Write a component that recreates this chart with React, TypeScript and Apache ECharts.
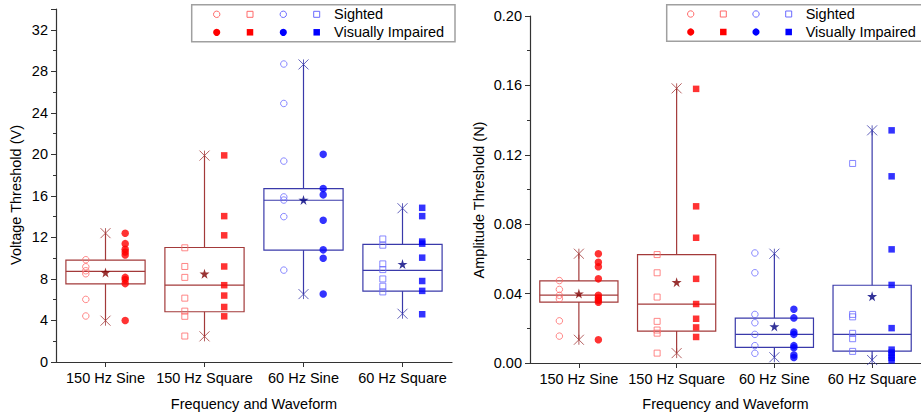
import React, { useEffect, useRef } from "react";
import * as echarts from "echarts";

const categories = ["150 Hz Sine", "150 Hz Square", "60 Hz Sine", "60 Hz Square"];

// Left chart: voltage threshold (V)
const voltTicks = { min: 0, max: 34, interval: 4 };
const voltSighted = [
  [9.85, 9.17, 8.79, 8.5, 6.03, 4.43],
  [11.0, 9.2, 8.15, 6.15, 4.9, 4.4, 2.5],
  [28.7, 24.9, 19.35, 15.9, 15.6, 14.0, 8.85],
  [11.85, 11.25, 9.45, 8.9, 8.0, 7.3, 6.75],
];
const voltVI = [
  [12.4, 11.4, 10.85, 10.6, 10.3, 8.15, 7.95, 7.55, 4.0],
  [19.9, 14.05, 12.2, 9.2, 7.4, 6.4, 5.3, 4.4],
  [20.0, 16.7, 16.1, 13.65, 10.8, 10.0, 6.55],
  [14.85, 14.05, 11.6, 11.4, 10.05, 7.8, 6.85, 4.6],
];
// [min, q1, median, q3, max]
const voltBox = [
  [3.98, 7.53, 8.72, 9.81, 12.41],
  [2.47, 4.84, 7.41, 11.03, 19.88],
  [6.54, 10.77, 15.58, 16.7, 28.66],
  [4.65, 6.83, 8.82, 11.32, 14.81],
];
const voltMean = [8.62, 8.5, 15.61, 9.43];

// Right chart: amplitude threshold (N)
const ampTicks = { min: 0, max: 0.2, interval: 0.04 };
const ampSighted = [
  [0.0475, 0.0424, 0.039, 0.037, 0.0243, 0.0155],
  [0.0625, 0.052, 0.038, 0.024, 0.019, 0.0172, 0.0057],
  [0.0634, 0.052, 0.028, 0.0232, 0.0165, 0.01, 0.0056],
  [0.115, 0.028, 0.0266, 0.0171, 0.014, 0.0067],
];
const ampVI = [
  [0.063, 0.058, 0.0555, 0.0485, 0.039, 0.0375, 0.036, 0.035, 0.0134],
  [0.158, 0.0903, 0.0722, 0.0485, 0.034, 0.0255, 0.0205, 0.015],
  [0.031, 0.026, 0.0178, 0.0165, 0.01, 0.0088, 0.0046, 0.0032],
  [0.1341, 0.1076, 0.0655, 0.045, 0.0201, 0.0077, 0.006, 0.0045, 0.003, 0.0015],
];
const ampBox = [
  [0.0134, 0.0351, 0.0391, 0.0473, 0.063],
  [0.0057, 0.0184, 0.0339, 0.0625, 0.1583],
  [0.0033, 0.009, 0.0165, 0.0259, 0.063],
  [0.0017, 0.0069, 0.0165, 0.0448, 0.1341],
];
const ampMean = [0.04, 0.0466, 0.0211, 0.0385];

const legendLabels = ["Sighted", "Visually Impaired"];

// styles
const FONT = "'Liberation Sans', Arial, sans-serif";
const FS = 14.5;
const boxColor = ["#a33a3a", "#a33a3a", "#3a3aaa", "#3a3aaa"];
const meanColor = ["#800000", "#800000", "#000080", "#000080"];
const sightedColor = ["#ff6a6a", "#ff6a6a", "#6a6aff", "#6a6aff"];
const viColor = ["#ff0000", "#ff0000", "#0000ff", "#0000ff"];
const shape = ["circle", "rect", "circle", "rect"];
const STAR = "path://M50,0L61,35L98,35L68,57L79,91L50,70L21,91L32,57L2,35L39,35Z";
const ASTER = "path://M0,0L10,10M10,0L0,10M5,0L5,10";

function buildSeries(
  gi: number,
  sighted: number[][],
  vi: number[][],
  box: number[][],
  mean: number[],
  offset: number
) {
  const series: any[] = [];
  series.push({
    type: "custom",
    xAxisIndex: gi,
    yAxisIndex: gi,
    silent: true,
    z: 1,
    encode: { x: 0, y: [1, 2, 3, 4, 5] },
    data: box.map((b, i) => [i, ...b]),
    renderItem: (params: any, api: any) => {
      const x = api.value(0);
      const idx = params.dataIndex;
      const col = boxColor[idx];
      const pMin = api.coord([x, api.value(1)]);
      const pQ1 = api.coord([x, api.value(2)]);
      const pMed = api.coord([x, api.value(3)]);
      const pQ3 = api.coord([x, api.value(4)]);
      const pMax = api.coord([x, api.value(5)]);
      const bw = api.size([1, 0])[0] * 0.8;
      const cx = pMed[0];
      const st = { stroke: col, lineWidth: 1.2, fill: "none" };
      return {
        type: "group",
        children: [
          { type: "line", shape: { x1: cx, y1: pMax[1], x2: cx, y2: pQ3[1] }, style: st },
          { type: "line", shape: { x1: cx, y1: pQ1[1], x2: cx, y2: pMin[1] }, style: st },
          {
            type: "rect",
            shape: { x: cx - bw / 2, y: pQ3[1], width: bw, height: pQ1[1] - pQ3[1] },
            style: st,
          },
          {
            type: "line",
            shape: { x1: cx - bw / 2, y1: pMed[1], x2: cx + bw / 2, y2: pMed[1] },
            style: st,
          },
        ],
      };
    },
  });
  categories.forEach((_, i) => {
    series.push({
      type: "scatter",
      xAxisIndex: gi,
      yAxisIndex: gi,
      silent: true,
      z: 3,
      symbol: shape[i],
      symbolSize: shape[i] === "circle" ? 6.5 : 6,
      symbolOffset: [-offset, 0],
      itemStyle: { color: "rgba(0,0,0,0)", borderColor: sightedColor[i], borderWidth: 1 },
      data: sighted[i].map((v) => [i, v]),
    });
    series.push({
      type: "scatter",
      xAxisIndex: gi,
      yAxisIndex: gi,
      silent: true,
      z: 3,
      symbol: shape[i],
      symbolSize: shape[i] === "circle" ? 7.5 : 6.5,
      symbolOffset: [offset, 0],
      itemStyle: { color: viColor[i] },
      data: vi[i].map((v) => [i, v]),
    });
  });
  series.push({
    type: "scatter",
    xAxisIndex: gi,
    yAxisIndex: gi,
    silent: true,
    z: 4,
    symbol: ASTER,
    symbolSize: 10,
    data: box.flatMap((b, i) => [
      { value: [i, b[0]], itemStyle: { color: "rgba(0,0,0,0)", borderColor: boxColor[i], borderWidth: 1 } },
      { value: [i, b[4]], itemStyle: { color: "rgba(0,0,0,0)", borderColor: boxColor[i], borderWidth: 1 } },
    ]),
  });
  series.push({
    type: "scatter",
    xAxisIndex: gi,
    yAxisIndex: gi,
    silent: true,
    z: 5,
    symbol: STAR,
    symbolSize: 10,
    data: mean.map((m, i) => ({ value: [i, m], itemStyle: { color: meanColor[i] } })),
  });
  return series;
}

function legendGraphic(x: number, y: number, w: number, h: number, mx: number[], tx: number, rows: number[]) {
  const els: any[] = [
    { type: "rect", shape: { x, y, width: w, height: h }, style: { fill: "#fff", stroke: "#a0a0a0", lineWidth: 1.5 }, z: 10 },
  ];
  const add = (i: number, row: number, filled: boolean) => {
    const cx = mx[i];
    const cy = rows[row];
    const col = filled ? viColor[i] : sightedColor[i];
    const style = filled ? { fill: col } : { fill: "none", stroke: col, lineWidth: 1 };
    if (shape[i] === "circle") {
      els.push({ type: "circle", shape: { cx, cy, r: filled ? 3.6 : 3.2 }, style, z: 11 });
    } else {
      const s = filled ? 6.5 : 6;
      els.push({ type: "rect", shape: { x: cx - s / 2, y: cy - s / 2, width: s, height: s }, style, z: 11 });
    }
  };
  categories.forEach((_, i) => {
    add(i, 0, false);
    add(i, 1, true);
  });
  legendLabels.forEach((t, r) => {
    els.push({
      type: "text",
      x: tx,
      y: rows[r],
      z: 11,
      style: { text: t, font: `${FS}px ${FONT}`, fill: "#000", textAlign: "left", textVerticalAlign: "middle" },
    });
  });
  return els;
}

function xAxisCfg(gi: number, nameGap: number) {
  return {
    type: "category",
    gridIndex: gi,
    data: categories,
    boundaryGap: true,
    name: "Frequency and Waveform",
    nameLocation: "middle",
    nameGap,
    nameTextStyle: { fontFamily: FONT, fontSize: FS, color: "#000" },
    axisLine: { show: true, lineStyle: { color: "#333", width: 1.2 } },
    axisTick: { show: true, alignWithLabel: true, length: 5, interval: 0, lineStyle: { color: "#333" } },
    axisLabel: { interval: 0, margin: 8, fontFamily: FONT, fontSize: FS, color: "#000" },
    splitLine: { show: false },
  };
}

function yAxisCfg(gi: number, t: { min: number; max: number; interval: number }, fmt: (v: number) => string) {
  return {
    type: "value",
    gridIndex: gi,
    min: t.min,
    max: t.max,
    interval: t.interval,
    axisLine: { show: true, lineStyle: { color: "#333", width: 1.2 } },
    axisTick: { show: true, length: 5, lineStyle: { color: "#333" } },
    minorTick: { show: true, splitNumber: 2, length: 3, lineStyle: { color: "#333" } },
    axisLabel: { margin: 8, fontFamily: FONT, fontSize: FS, color: "#000", showMaxLabel: gi === 1, formatter: fmt },
    splitLine: { show: false },
    minorSplitLine: { show: false },
  };
}

export default function App() {
  const ref = useRef<HTMLDivElement>(null);
  useEffect(() => {
    if (!ref.current) return;
    const chart = echarts.init(ref.current, undefined, { renderer: "svg" });
    const option: any = {
      animation: false,
      backgroundColor: "#fff",
      grid: [
        { left: 56, top: 9, width: 396, bottom: 53.7 },
        { left: 530, top: 16, right: 0, bottom: 52 },
      ],
      xAxis: [xAxisCfg(0, 34), xAxisCfg(1, 33)],
      yAxis: [
        yAxisCfg(0, voltTicks, (v: number) => (v > 33 ? "" : String(Math.round(v)))),
        yAxisCfg(1, ampTicks, (v: number) => v.toFixed(2)),
      ],
      series: [
        ...buildSeries(0, voltSighted, voltVI, voltBox, voltMean, 19.7),
        ...buildSeries(1, ampSighted, ampVI, ampBox, ampMean, 19.5),
      ],
      graphic: [
        {
          type: "text",
          x: 16,
          y: 195,
          rotation: Math.PI / 2,
          style: { text: "Voltage Threshold (V)", font: `${FS}px ${FONT}`, fill: "#000", textAlign: "center", textVerticalAlign: "middle" },
        },
        {
          type: "text",
          x: 479,
          y: 200,
          rotation: Math.PI / 2,
          style: { text: "Amplitude Threshold (N)", font: `${FS}px ${FONT}`, fill: "#000", textAlign: "center", textVerticalAlign: "middle" },
        },
        ...legendGraphic(191.7, 4.7, 263.3, 37, [216.7, 250, 283.3, 316.7], 334, [14.3, 32.3]),
        ...legendGraphic(666.7, 4.7, 262, 36.6, [690.7, 723.3, 756, 788.7], 805.7, [14, 32]),
      ],
    };
    chart.setOption(option);
    return () => chart.dispose();
  }, []);
  return (
    <div
      ref={ref}
      style={{ position: "fixed", left: 0, top: 0, width: 921, height: 416, background: "#fff" }}
    />
  );
}
